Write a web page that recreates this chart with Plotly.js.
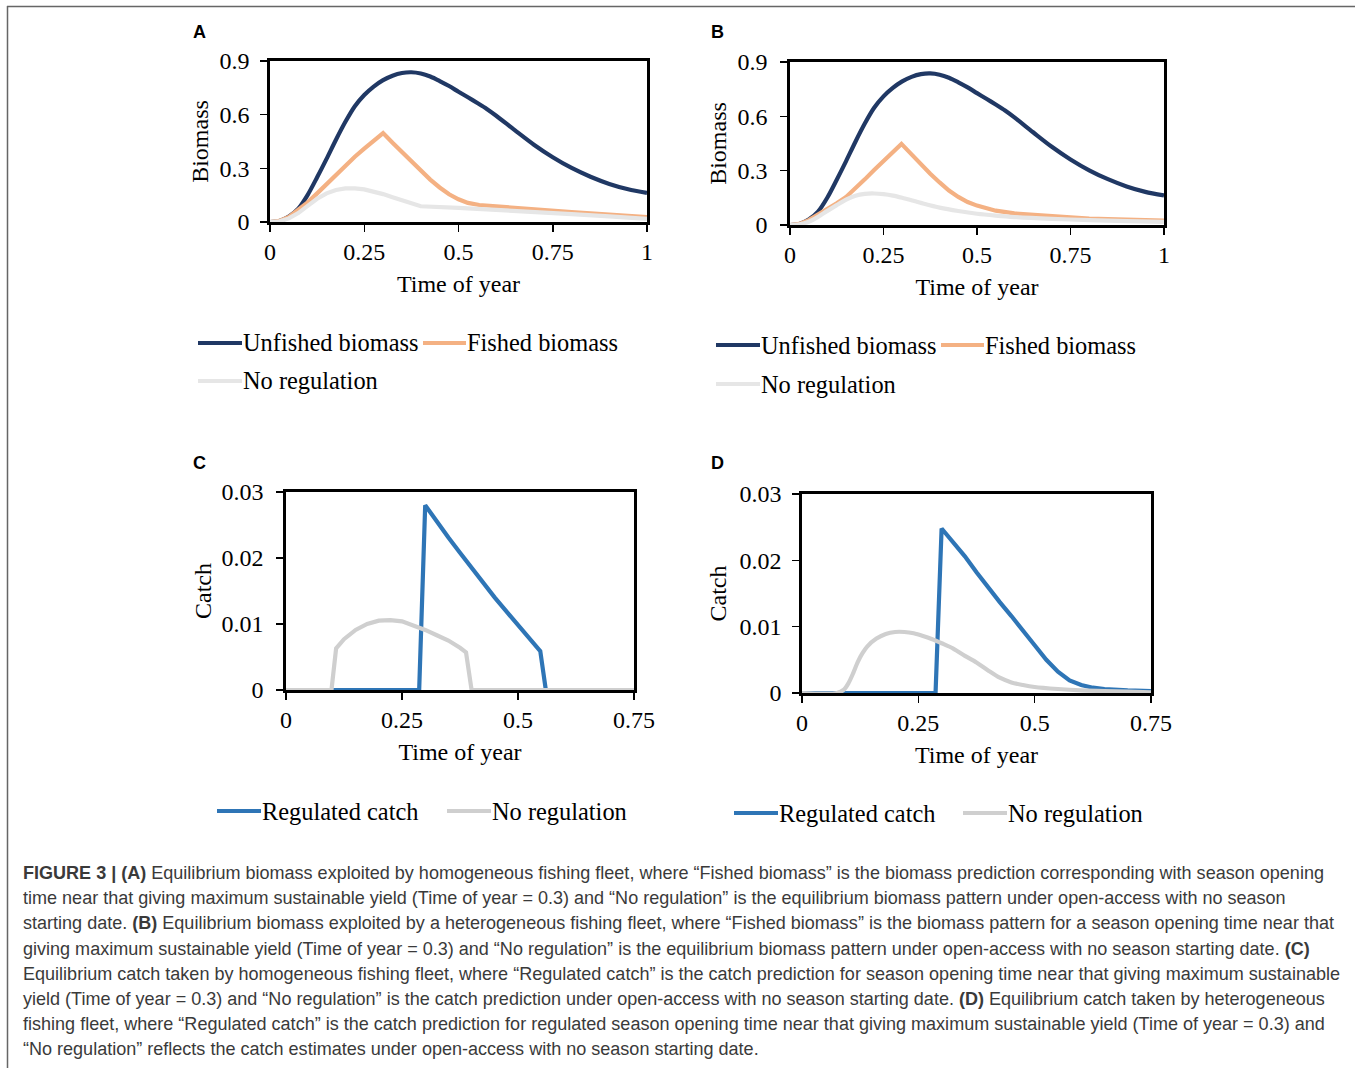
<!DOCTYPE html>
<html>
<head>
<meta charset="utf-8">
<script src="https://cdn.plot.ly/plotly-3.0.1.min.js"></script>
<style>
  html, body { margin: 0; padding: 0; background: #ffffff; }
  #chart { width: 1355px; height: 1068px; }
</style>
</head>
<body>
<div id="chart"></div>
<script>
// ---------------- DATA ----------------
// Panels A & B: biomass over time of year
const timeUnfished = [0, 0.025, 0.05, 0.075, 0.1, 0.125, 0.15, 0.175, 0.2, 0.225, 0.25, 0.275, 0.3, 0.325, 0.35, 0.375, 0.4, 0.425, 0.45, 0.475, 0.5, 0.525, 0.55, 0.575, 0.6, 0.65, 0.7, 0.75, 0.8, 0.85, 0.9, 0.95, 1.0];
const unfishedBiomass = [0, 0.006, 0.03, 0.074, 0.152, 0.25, 0.353, 0.46, 0.56, 0.647, 0.71, 0.757, 0.793, 0.818, 0.833, 0.837, 0.83, 0.813, 0.788, 0.76, 0.728, 0.697, 0.665, 0.632, 0.594, 0.512, 0.432, 0.362, 0.302, 0.253, 0.213, 0.183, 0.163];

const timeFishedA = [0, 0.025, 0.05, 0.075, 0.1, 0.125, 0.15, 0.175, 0.2, 0.225, 0.25, 0.275, 0.3, 0.325, 0.35, 0.375, 0.4, 0.425, 0.45, 0.475, 0.5, 0.525, 0.555, 0.6, 0.7, 0.8, 0.9, 1.0];
const fishedBiomassA = [0, 0.006, 0.028, 0.066, 0.11, 0.16, 0.213, 0.266, 0.318, 0.365, 0.41, 0.455, 0.497, 0.443, 0.39, 0.338, 0.286, 0.237, 0.193, 0.155, 0.127, 0.107, 0.095, 0.087, 0.07, 0.055, 0.041, 0.028];

const timeNoRegA = [0, 0.025, 0.05, 0.075, 0.1, 0.125, 0.15, 0.175, 0.2, 0.225, 0.25, 0.275, 0.3, 0.325, 0.35, 0.375, 0.4, 0.5, 0.6, 0.7, 0.8, 0.9, 1.0];
const noRegBiomassA = [0, 0.004, 0.02, 0.05, 0.09, 0.13, 0.16, 0.179, 0.188, 0.188, 0.182, 0.171, 0.156, 0.139, 0.12, 0.103, 0.088, 0.079, 0.069, 0.057, 0.044, 0.031, 0.018];

const timeFishedB = [0, 0.025, 0.05, 0.075, 0.1, 0.125, 0.15, 0.175, 0.2, 0.225, 0.25, 0.275, 0.298, 0.325, 0.35, 0.375, 0.4, 0.425, 0.45, 0.475, 0.5, 0.55, 0.6, 0.65, 0.7, 0.75, 0.8, 0.9, 1.0];
const fishedBiomassB = [0, 0.006, 0.027, 0.058, 0.085, 0.12, 0.155, 0.2, 0.252, 0.304, 0.355, 0.4, 0.448, 0.39, 0.335, 0.283, 0.235, 0.19, 0.155, 0.127, 0.107, 0.079, 0.064, 0.055, 0.048, 0.042, 0.036, 0.029, 0.024];

const timeNoRegB = [0, 0.025, 0.05, 0.075, 0.1, 0.125, 0.15, 0.175, 0.2, 0.225, 0.25, 0.275, 0.3, 0.35, 0.4, 0.45, 0.5, 0.55, 0.6, 0.7, 0.8, 0.9, 1.0];
const noRegBiomassB = [0, 0.004, 0.018, 0.045, 0.078, 0.11, 0.14, 0.162, 0.172, 0.174, 0.17, 0.162, 0.15, 0.122, 0.096, 0.077, 0.062, 0.052, 0.044, 0.034, 0.027, 0.021, 0.017];

// Panels C & D: catch over time of year
const timeRegC = [0, 0.287, 0.3, 0.325, 0.35, 0.375, 0.4, 0.425, 0.45, 0.475, 0.5, 0.525, 0.548, 0.56, 0.75];
const regulatedCatchC = [0, 0, 0.028, 0.0255, 0.0231, 0.0208, 0.0185, 0.0162, 0.0140, 0.0119, 0.0098, 0.0078, 0.0059, 0, 0];

const timeNoRegC = [0, 0.098, 0.108, 0.125, 0.15, 0.175, 0.2, 0.225, 0.25, 0.275, 0.3, 0.325, 0.35, 0.375, 0.388, 0.4, 0.75];
const noRegCatchC = [0, 0, 0.0063, 0.0077, 0.0091, 0.0100, 0.0105, 0.0106, 0.0104, 0.0098, 0.0091, 0.0083, 0.0075, 0.0064, 0.0057, 0, 0];

const timeRegD = [0, 0.287, 0.3, 0.325, 0.35, 0.375, 0.4, 0.425, 0.45, 0.475, 0.5, 0.525, 0.55, 0.575, 0.6, 0.625, 0.65, 0.7, 0.75];
const regulatedCatchD = [0, 0, 0.0248, 0.0228, 0.0206, 0.0182, 0.0159, 0.0137, 0.0116, 0.0095, 0.0072, 0.0050, 0.0032, 0.0019, 0.0012, 0.0008, 0.0006, 0.0004, 0.0003];

const timeNoRegD = [0, 0.075, 0.09, 0.1, 0.11, 0.12, 0.13, 0.14, 0.16, 0.18, 0.2, 0.22, 0.24, 0.26, 0.28, 0.3, 0.325, 0.35, 0.375, 0.4, 0.425, 0.45, 0.475, 0.5, 0.55, 0.6, 0.65, 0.7, 0.75];
const noRegCatchD = [0, 0, 0.0005, 0.0015, 0.003, 0.0047, 0.006, 0.007, 0.0082, 0.0089, 0.0092, 0.0092, 0.009, 0.0086, 0.0081, 0.0075, 0.0067, 0.0056, 0.0046, 0.0034, 0.0023, 0.0016, 0.0012, 0.0009, 0.0006, 0.0004, 0.0003, 0.0002, 0.0001];

// Tick labels
const biomassTicks = [0, 0.3, 0.6, 0.9];
const biomassTickText = ['0', '0.3', '0.6', '0.9'];
const catchTicks = [0, 0.01, 0.02, 0.03];
const catchTickText = ['0', '0.01', '0.02', '0.03'];
const yearTicksAB = [0, 0.25, 0.5, 0.75, 1];
const yearTickTextAB = ['0', '0.25', '0.5', '0.75', '1'];
const yearTicksCD = [0, 0.25, 0.5, 0.75];
const yearTickTextCD = ['0', '0.25', '0.5', '0.75'];

// Series names
const nameUnfished = 'Unfished biomass';
const nameFished = 'Fished biomass';
const nameNoReg = 'No regulation';
const nameRegulated = 'Regulated catch';

// Caption
const captionLines = [
  '<b>FIGURE 3 | (A)</b> Equilibrium biomass exploited by homogeneous fishing fleet, where “Fished biomass” is the biomass prediction corresponding with season opening',
  'time near that giving maximum sustainable yield (Time of year = 0.3) and “No regulation” is the equilibrium biomass pattern under open-access with no season',
  'starting date. <b>(B)</b> Equilibrium biomass exploited by a heterogeneous fishing fleet, where “Fished biomass” is the biomass pattern for a season opening time near that',
  'giving maximum sustainable yield (Time of year = 0.3) and “No regulation” is the equilibrium biomass pattern under open-access with no season starting date. <b>(C)</b>',
  'Equilibrium catch taken by homogeneous fishing fleet, where “Regulated catch” is the catch prediction for season opening time near that giving maximum sustainable',
  'yield (Time of year = 0.3) and “No regulation” is the catch prediction under open-access with no season starting date. <b>(D)</b> Equilibrium catch taken by heterogeneous',
  'fishing fleet, where “Regulated catch” is the catch prediction for regulated season opening time near that giving maximum sustainable yield (Time of year = 0.3) and',
  '“No regulation” reflects the catch estimates under open-access with no season starting date.'
];

// ---------------- STYLE ----------------
const W = 1355, H = 1068;
const fx = p => p / W;
const fy = p => 1 - p / H;
const SERIF = 'Liberation Serif, "Times New Roman", serif';
const SANS = 'Liberation Sans, Arial, sans-serif';
const cNavy = '#203864', cOrange = '#F4B183', cLightGray = '#E6E6E6';
const cBlue = '#2E75B6', cGray = '#CFCFCF';

function line(x, y, name, color, xa, ya, shape) {
  return { x: x, y: y, name: name, type: 'scatter', mode: 'lines',
           line: { color: color, width: 4.2, shape: shape || 'linear', smoothing: 0.8 },
           xaxis: xa, yaxis: ya, showlegend: false, hoverinfo: 'x+y+name' };
}

const traces = [
  line(timeUnfished, unfishedBiomass, nameUnfished, cNavy, 'x', 'y', 'spline'),
  line(timeFishedA, fishedBiomassA, nameFished, cOrange, 'x', 'y'),
  line(timeNoRegA, noRegBiomassA, nameNoReg, cLightGray, 'x', 'y'),
  line(timeUnfished, unfishedBiomass, nameUnfished, cNavy, 'x2', 'y2', 'spline'),
  line(timeFishedB, fishedBiomassB, nameFished, cOrange, 'x2', 'y2'),
  line(timeNoRegB, noRegBiomassB, nameNoReg, cLightGray, 'x2', 'y2', 'spline'),
  line(timeRegC, regulatedCatchC, nameRegulated, cBlue, 'x3', 'y3'),
  line(timeNoRegC, noRegCatchC, nameNoReg, cGray, 'x3', 'y3'),
  line(timeRegD, regulatedCatchD, nameRegulated, cBlue, 'x4', 'y4'),
  line(timeNoRegD, noRegCatchD, nameNoReg, cGray, 'x4', 'y4', 'spline')
];

function axisBase(domain, range, tickvals, ticktext, title, anchor, labelShift, standoff) {
  return {
    domain: domain, range: range, anchor: anchor, fixedrange: true,
    tickmode: 'array', tickvals: tickvals, ticktext: ticktext,
    showline: true, mirror: true, linecolor: '#000', linewidth: 2.6,
    ticks: 'outside', ticklen: 7, tickwidth: 1.5, tickcolor: '#000',
    ticklabelstandoff: labelShift,
    showgrid: false, zeroline: false, layer: 'below traces',
    tickfont: { family: SERIF, size: 24, color: '#000' },
    title: { text: title, font: { family: SERIF, size: 24, color: '#000' }, standoff: standoff },
    automargin: false
  };
}

// subplot pixel boxes [left, right, top, bottom]
const boxA = [270, 647, 61, 222];
const boxB = [790, 1164, 62, 225];
const boxC = [286, 634, 492, 690];
const boxD = [802, 1151, 494, 693];
const dx = b => [fx(b[0]), fx(b[1])];
const dy = b => [fy(b[3]), fy(b[2])];

const layout = {
  width: W, height: H,
  margin: { l: 0, r: 0, t: 0, b: 0, pad: 0 },
  paper_bgcolor: '#ffffff', plot_bgcolor: '#ffffff',
  showlegend: false,
  xaxis:  axisBase(dx(boxA), [0, 1], yearTicksAB, yearTickTextAB, 'Time of year', 'y', 0, 11),
  yaxis:  axisBase(dy(boxA), [0, 0.9], biomassTicks, biomassTickText, 'Biomass', 'x', 6, 4),
  xaxis2: axisBase(dx(boxB), [0, 1], yearTicksAB, yearTickTextAB, 'Time of year', 'y2', 0, 11),
  yaxis2: axisBase(dy(boxB), [0, 0.9], biomassTicks, biomassTickText, 'Biomass', 'x2', 8, 4),
  xaxis3: axisBase(dx(boxC), [0, 0.75], yearTicksCD, yearTickTextCD, 'Time of year', 'y3', 0, 11),
  yaxis3: axisBase(dy(boxC), [0, 0.03], catchTicks, catchTickText, 'Catch', 'x3', 8, 3),
  xaxis4: axisBase(dx(boxD), [0, 0.75], yearTicksCD, yearTickTextCD, 'Time of year', 'y4', 0, 11),
  yaxis4: axisBase(dy(boxD), [0, 0.03], catchTicks, catchTickText, 'Catch', 'x4', 6, 6),
  shapes: [],
  annotations: []
};

// figure frame (top and left rule)
layout.shapes.push({ type: 'line', xref: 'paper', yref: 'paper', x0: fx(7), x1: 1, y0: fy(6.5), y1: fy(6.5), line: { color: '#666', width: 1.5 } });
layout.shapes.push({ type: 'line', xref: 'paper', yref: 'paper', x0: fx(7.5), x1: fx(7.5), y0: fy(6), y1: 0, line: { color: '#666', width: 1.5 } });

// panel letters
[['A', 199, 32], ['B', 717, 32], ['C', 199, 463], ['D', 717, 463]].forEach(function (p) {
  layout.annotations.push({ text: '<b>' + p[0] + '</b>', xref: 'paper', yref: 'paper', x: fx(p[1]), y: fy(p[2]),
    xanchor: 'center', yanchor: 'middle', showarrow: false, font: { family: SANS, size: 18, color: '#000' } });
});

// custom legends built from the traces: [traceIndex, sampleStartX, rowY, sampleLength]
const legendItems = [
  [0, 198, 343, 44], [1, 423, 343, 43], [2, 198, 381, 44],
  [3, 716, 345, 44], [4, 941, 345, 43], [5, 716, 384, 44],
  [6, 217, 811, 44], [7, 447, 811, 44],
  [8, 734, 813, 44], [9, 963, 813, 44]
];
legendItems.forEach(function (it) {
  const tr = traces[it[0]];
  layout.shapes.push({ type: 'line', xref: 'paper', yref: 'paper',
    x0: fx(it[1]), x1: fx(it[1] + it[3]), y0: fy(it[2]), y1: fy(it[2]),
    line: { color: tr.line.color, width: 4.2 } });
  layout.annotations.push({ text: tr.name, xref: 'paper', yref: 'paper',
    x: fx(it[1] + it[3] - 1), y: fy(it[2]), xanchor: 'left', yanchor: 'middle', showarrow: false,
    font: { family: SERIF, size: 24.4, color: '#000' } });
});

// caption
captionLines.forEach(function (t, i) {
  layout.annotations.push({ text: t, xref: 'paper', yref: 'paper', x: fx(21), y: fy(873 + i * 25.2),
    xanchor: 'left', yanchor: 'middle', align: 'left', showarrow: false,
    font: { family: SANS, size: 18.05, color: '#3a3a3a' } });
});

Plotly.newPlot('chart', traces, layout, { staticPlot: true, displayModeBar: false });
</script>
</body>
</html>
